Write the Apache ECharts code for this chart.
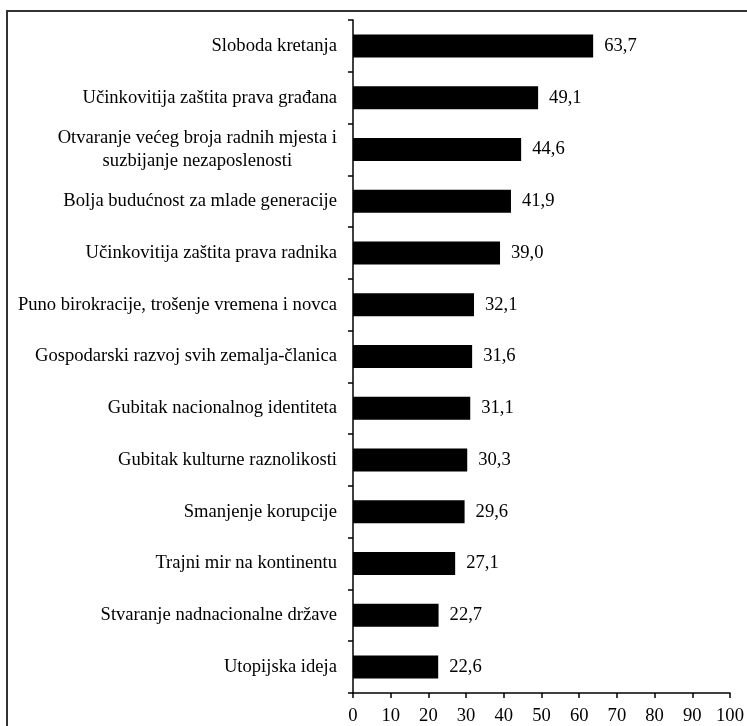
<!DOCTYPE html>
<html>
<head>
<meta charset="utf-8">
<script src="https://cdn.jsdelivr.net/npm/echarts@6/dist/echarts.min.js"></script>
<style>
html,body{margin:0;padding:0;background:#fff;}
#chart{width:747px;height:726px;}
</style>
</head>
<body>
<div id="chart"></div>
<script>
const categories = [
  'Sloboda kretanja',
  'Učinkovitija zaštita prava građana',
  'Otvaranje većeg broja radnih mjesta i\nsuzbijanje nezaposlenosti',
  'Bolja budućnost za mlade generacije',
  'Učinkovitija zaštita prava radnika',
  'Puno birokracije, trošenje vremena i novca',
  'Gospodarski razvoj svih zemalja-članica',
  'Gubitak nacionalnog identiteta',
  'Gubitak kulturne raznolikosti',
  'Smanjenje korupcije',
  'Trajni mir na kontinentu',
  'Stvaranje nadnacionalne države',
  'Utopijska ideja'
];
const values = [63.7, 49.1, 44.6, 41.9, 39.0, 32.1, 31.6, 31.1, 30.3, 29.6, 27.1, 22.7, 22.6];
const xTicks = [0, 10, 20, 30, 40, 50, 60, 70, 80, 90, 100];

const FONT = '"Liberation Serif", "Times New Roman", serif';
const FS = 18.6;
const chart = echarts.init(document.getElementById('chart'), null, {renderer: 'canvas'});
chart.setOption({
  animation: false,
  backgroundColor: '#fff',
  textStyle: {fontFamily: FONT, color: '#000'},
  graphic: [{
    type: 'rect',
    shape: {x: 7, y: 11, width: 800, height: 800},
    style: {fill: 'none', stroke: '#333', lineWidth: 2},
    silent: true,
    z: 100
  }],
  grid: {left: 353, right: 17, top: 20, bottom: 33, containLabel: false},
  xAxis: {
    type: 'value',
    min: xTicks[0],
    max: xTicks[xTicks.length - 1],
    interval: 10,
    splitLine: {show: false},
    axisLine: {show: true, lineStyle: {color: '#000', width: 1.5}},
    axisTick: {show: true, length: 5, lineStyle: {color: '#000', width: 1.5}},
    axisLabel: {fontFamily: FONT, fontSize: FS, color: '#000', margin: 14}
  },
  yAxis: {
    type: 'category',
    data: categories,
    inverse: true,
    axisLine: {show: true, lineStyle: {color: '#000', width: 1.5}},
    axisTick: {show: true, length: 5, lineStyle: {color: '#000', width: 1.5}},
    axisLabel: {
      fontFamily: FONT, fontSize: FS, color: '#000', margin: 16,
      lineHeight: 23,
      formatter: function (v) {
        return v.split('\n').map(function (l) { return '{c|' + l + '}'; }).join('\n');
      },
      rich: {c: {align: 'center', fontFamily: FONT, fontSize: FS, color: '#000', lineHeight: 23}}
    }
  },
  series: [{
    type: 'bar',
    data: values,
    barWidth: 23,
    itemStyle: {color: '#000'},
    label: {
      show: true,
      position: 'right',
      distance: 11,
      fontFamily: FONT,
      fontSize: FS,
      color: '#000',
      formatter: function (p) { return p.value.toFixed(1).replace('.', ','); }
    }
  }]
});
</script>
</body>
</html>
